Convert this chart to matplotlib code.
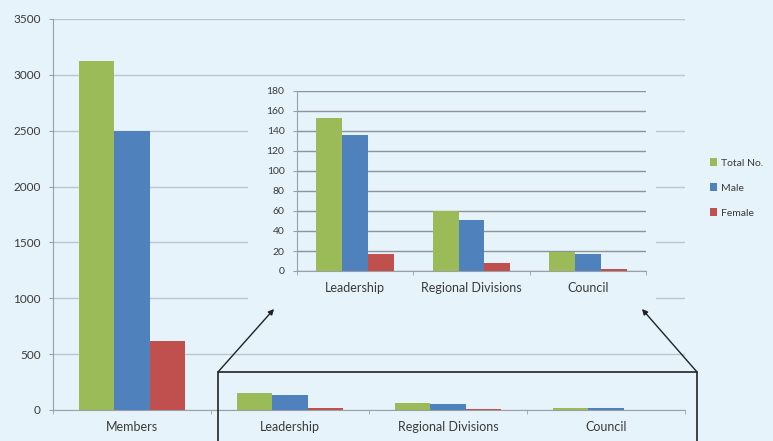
import matplotlib
matplotlib.use("Agg")
import matplotlib.pyplot as plt
import numpy as np
from matplotlib.patches import Rectangle

# ---- data ----
categories = ["Members", "Leadership", "Regional Divisions", "Council"]
series_names = ["Total No.", "Male", "Female"]
total_no = [3120, 153, 60, 19]
male = [2500, 136, 51, 17]
female = [620, 17, 8, 2]

main_yticks = [0, 500, 1000, 1500, 2000, 2500, 3000, 3500]
inset_yticks = [0, 20, 40, 60, 80, 100, 120, 140, 160, 180]

COLORS = ["#9BBB59", "#4F81BD", "#C0504D"]
BG = "#E7F3FA"
TEXT = "#3a3a3a"

W, H = 773, 441

plt.rcParams["font.family"] = ["Lato", "DejaVu Sans"]


def fx(px):
    return px / W


def fy(py):
    return 1 - py / H


def draw_bars(ax, cats, values, grid_color, ysize):
    x = np.arange(len(cats))
    width = 0.67 / 3
    bars = []
    for i, (vals, color) in enumerate(zip(values, COLORS)):
        b = ax.bar(x + (i - 1) * width, vals, width, color=color,
                   label=series_names[i], zorder=3)
        bars.append(b)
    ax.set_xlim(-0.5, len(cats) - 0.5)
    ax.set_xticks(x)
    ax.set_xticklabels(cats)
    ax.set_xticks(np.arange(len(cats) + 1) - 0.5, minor=True)
    ax.tick_params(axis="x", which="major", length=0, pad=8,
                   labelsize=9, labelcolor=TEXT)
    ax.tick_params(axis="x", which="minor", length=3, color="#9aa0a6",
                   direction="out")
    ax.tick_params(axis="y", length=3, color="#9aa0a6", labelsize=ysize,
                   labelcolor=TEXT, pad=6)
    ax.grid(axis="y", color=grid_color, linewidth=1.0, zorder=0)
    for side in ["top", "right"]:
        ax.spines[side].set_visible(False)
    for side in ["left", "bottom"]:
        ax.spines[side].set_color("#9aa0a6")
    return bars


fig = plt.figure(figsize=(W / 100, H / 100), dpi=100)
fig.patch.set_facecolor(BG)

# main chart
ax = fig.add_axes([fx(53), fy(410), fx(685) - fx(53), fy(19) - fy(410)])
ax.set_facecolor("none")
bars = draw_bars(ax, categories, [total_no, male, female], "#bcc6cd", 8.5)
ax.set_ylim(0, 3500)
ax.set_yticks(main_yticks)

# backdrop for the zoomed inset
fig.patches.append(Rectangle((fx(248), fy(335)), fx(656) - fx(248),
                             fy(80) - fy(335), transform=fig.transFigure,
                             facecolor=BG, edgecolor="none", zorder=1))

# inset chart (smaller categories only)
ins = fig.add_axes([fx(297), fy(271), fx(646) - fx(297), fy(91) - fy(271)])
ins.set_zorder(2)
ins.set_facecolor("none")
draw_bars(ins, categories[1:], [total_no[1:], male[1:], female[1:]],
          "#8d9398", 7.5)
ins.set_ylim(0, 180)
ins.set_yticks(inset_yticks)

# outline box around the small bars, with arrows to the inset
fig.patches.append(Rectangle((fx(218), -0.1), fx(697) - fx(218),
                             fy(372) + 0.1, transform=fig.transFigure,
                             facecolor="none", edgecolor="#222222",
                             linewidth=1.2, zorder=3))
for start, end in [((218, 372), (274, 309)), ((697, 372), (642, 309))]:
    fig.add_artist(plt.Annotation(
        "", xy=(fx(end[0]), fy(end[1])), xytext=(fx(start[0]), fy(start[1])),
        xycoords="figure fraction", textcoords="figure fraction",
        arrowprops=dict(arrowstyle="-|>", color="#222222", lw=1.0,
                        mutation_scale=8, shrinkA=0, shrinkB=0)))

# legend
fig.legend(handles=bars, labels=series_names, loc="center left",
           bbox_to_anchor=(fx(706), fy(188)), frameon=False, fontsize=7.5,
           handlelength=0.7, handleheight=0.7, handletextpad=0.3,
           labelspacing=1.5, labelcolor=TEXT, borderaxespad=0)

fig.savefig("out.png", dpi=100, facecolor=BG)
